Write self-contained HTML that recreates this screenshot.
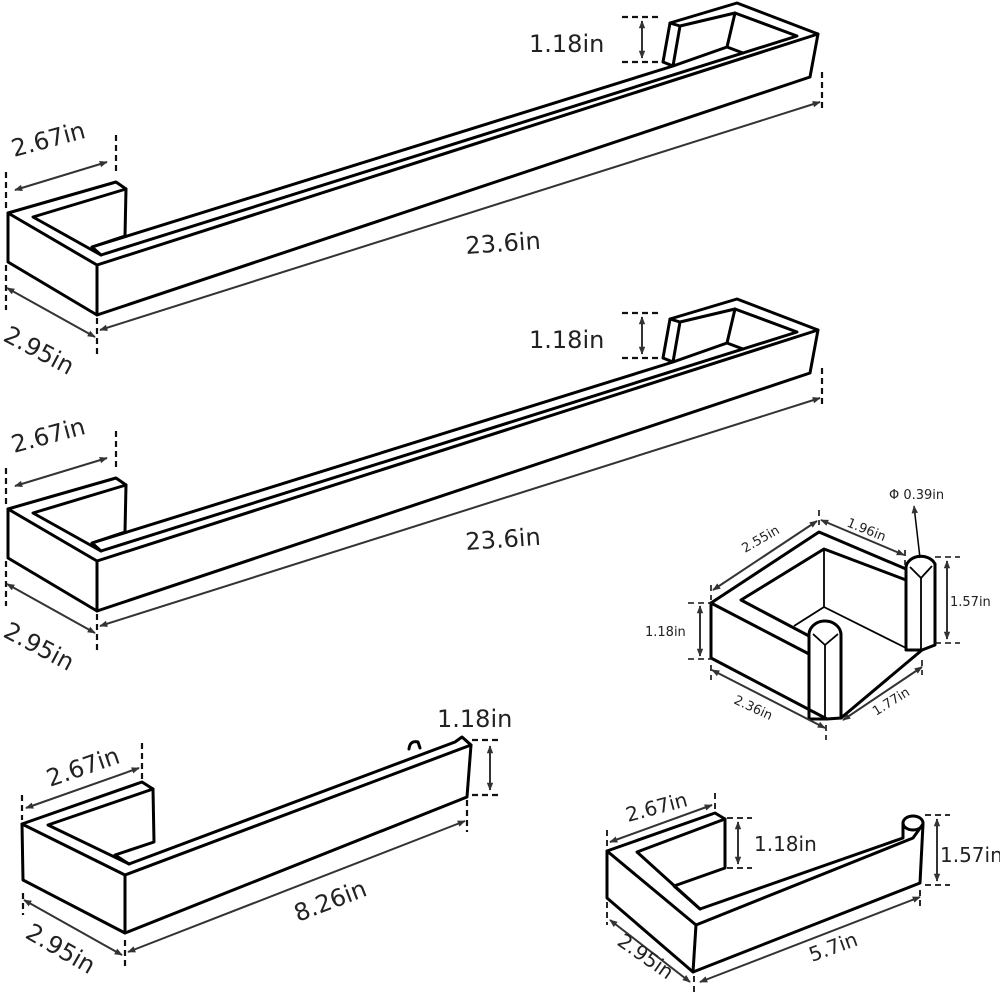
<!DOCTYPE html>
<html><head><meta charset="utf-8"><style>
html,body{margin:0;padding:0;background:#fff}
svg{display:block}
text{font-family:"DejaVu Sans","Liberation Sans",sans-serif;fill:#222}
.o{fill:none;stroke:#000;stroke-width:3;stroke-linejoin:round;stroke-linecap:round}
.t{fill:none;stroke:#000;stroke-width:1.8;stroke-linejoin:round}
.d{fill:none;stroke:#111;stroke-width:2.2;stroke-dasharray:6 4}
.a{fill:none;stroke:#333;stroke-width:2;marker-start:url(#m);marker-end:url(#m)}
.b{font-size:24px}
.s{font-size:13px}
</style></head><body>
<svg width="1000" height="999" viewBox="0 0 1000 999" xmlns="http://www.w3.org/2000/svg">
<defs><marker id="m" viewBox="0 0 10 10" refX="9" refY="5" markerWidth="9" markerHeight="8" orient="auto-start-reverse" markerUnits="userSpaceOnUse"><path d="M0,1 L10,5 L0,9 z" fill="#333"/></marker></defs>

<g id="bar">
<path class="o" d="M8,213 L97,265 L97,315 L8,262 Z"/>
<path class="o" d="M97,265 L818,34 L810,77 L97,315"/>
<path class="o" d="M8,213 L116,182 L126,189 L33,217 L101,255 L797,36 L735,13 M670,23 L737,3 L818,34"/>
<path class="o" d="M126,189 L125,236 L92,247 L101,255"/>
<path class="o" d="M92,247 L673,66"/>
<path class="o" d="M670,23 L680,26 L673,66 L663,62 Z M680,26 L735,13 L727,47 L673,66 M727,47 L743,53"/>
<path class="d" d="M6,172 V210 M116,135 V175 M6,265 V310 M97,318 V355 M822,72 V112 M622,17 H660 M622,62 H660"/>
<path class="a" d="M15,190 L107,162"/>
<path class="a" d="M7,288 L95,337"/>
<path class="a" d="M100,330 L820,102"/>
<path class="a" d="M642,21 L642,58"/>
<text class="b" x="14" y="157" transform="rotate(-15 14 157)">2.67in</text>
<text class="b" x="2" y="340" transform="rotate(28 2 340)">2.95in</text>
<text class="b" x="466" y="254" transform="rotate(-4 466 254)">23.6in</text>
<text class="b" x="529" y="52">1.18in</text>
</g>
<use href="#bar" transform="translate(0,296)"/>

<!-- Small hook -->
<path class="o" d="M711,603 L819,532 L906,569 L906,580 L824,549 L741,600 L809,636 L809,654 L711,603 Z"/>
<path class="o" d="M711,603 L711,658 L827,719 L841,718 L922,650 L935,645 L935,564"/>
<path class="o" d="M809,636 L809,719 L827,719 M841,634 L841,718 M906,569 L906,650 L922,650"/>
<path class="t" d="M824,549 L824,607 L794,626 M824,607 L906,648"/>
<path class="o" d="M809,636 A16,14 0 0 1 841,634 M906,569 A15,12 0 0 1 935,564"/>
<path class="t" d="M813,634 L825,645 L838,634 M910,567 L921,578 L932,566 M825,645 V719 M921,578 V650"/>
<path class="d" style="stroke-width:1.6" d="M711,585 V600 M711,665 V680 M819,510 V525 M905,550 V565 M922,660 V675 M826,725 V740 M935,557 H960 M935,643 H960 M688,603 H712 M688,659 H712"/>
<path class="a" d="M713,590 L817,521"/>
<path class="a" d="M821,520 L904,555"/>
<path class="a" d="M947,561 L947,639"/>
<path class="a" d="M700,606 L700,656"/>
<path class="a" d="M712,670 L825,728"/>
<path class="a" d="M843,720 L922,667"/>
<path class="t" style="stroke-width:1.5;marker-end:url(#m)" d="M920,558 L914,506"/>
<text class="s" x="889" y="499">Φ 0.39in</text>
<text class="s" x="745" y="553" transform="rotate(-30 745 553)">2.55in</text>
<text class="s" x="846" y="526" transform="rotate(22 846 526)">1.96in</text>
<text class="s" x="950" y="606">1.57in</text>
<text class="s" x="645" y="636">1.18in</text>
<text class="s" x="733" y="703" transform="rotate(25 733 703)">2.36in</text>
<text class="s" x="876" y="716" transform="rotate(-32 876 716)">1.77in</text>

<!-- Bar 3 -->
<path class="o" d="M22,824 L125,875 L125,933 L23,880 Z"/>
<path class="o" d="M125,875 L471,745 L467,797 L125,933"/>
<path class="o" d="M22,824 L142,782 L153,789 L48,825 L129,864 L455,742 L462,737 L471,745"/>
<path class="o" d="M153,789 L154,842 L115,855 L129,864"/>
<path class="o" d="M409,749 Q410,740 418,742 L420,748"/>
<path class="d" d="M22,795 V820 M142,743 V780 M23,893 V915 M125,940 V968 M472,740 H500 M472,795 H500 M467,800 V832"/>
<path class="a" d="M26,808 L139,768"/>
<path class="a" d="M24,900 L122,955"/>
<path class="a" d="M128,952 L465,821"/>
<path class="a" d="M490,746 L490,790"/>
<text class="b" x="50" y="787" transform="rotate(-19 50 787)">2.67in</text>
<text class="b" x="24" y="937" transform="rotate(30 24 937)">2.95in</text>
<text class="b" x="298" y="922" transform="rotate(-21 298 922)">8.26in</text>
<text class="b" x="437" y="727">1.18in</text>

<!-- Bar 4 -->
<path class="o" d="M607,851 L696,925 L693,972 L607,898 Z"/>
<path class="o" d="M696,925 L913,838 L923,824 L920,883 L693,972"/>
<path class="o" d="M607,851 L715,813 L725,819 L637,852 L700,909 L903,838 L903,824"/>
<path class="o" d="M725,819 L725,868 L674,886 L700,909"/>
<ellipse class="o" cx="913" cy="823" rx="10" ry="7"/>
<path class="d" style="stroke-width:1.8" d="M607,830 V850 M715,793 V812 M607,902 V925 M694,976 V995 M920,890 V910 M727,818 H752 M727,868 H752 M925,815 H950 M925,885 H950"/>
<path class="a" d="M610,842 L712,805"/>
<path class="a" d="M738,822 L738,864"/>
<path class="a" d="M937,819 L937,881"/>
<path class="a" d="M610,920 L690,982"/>
<path class="a" d="M700,982 L920,897"/>
<text class="b" style="font-size:20px" x="628" y="822" transform="rotate(-15 628 822)">2.67in</text>
<text class="b" style="font-size:20px" x="754" y="851">1.18in</text>
<text class="b" style="font-size:20px" x="940" y="862">1.57in</text>
<text class="b" style="font-size:20px" x="616" y="944" transform="rotate(35 616 944)">2.95in</text>
<text class="b" style="font-size:20px" x="812" y="962" transform="rotate(-20 812 962)">5.7in</text>
</svg>
</body></html>
